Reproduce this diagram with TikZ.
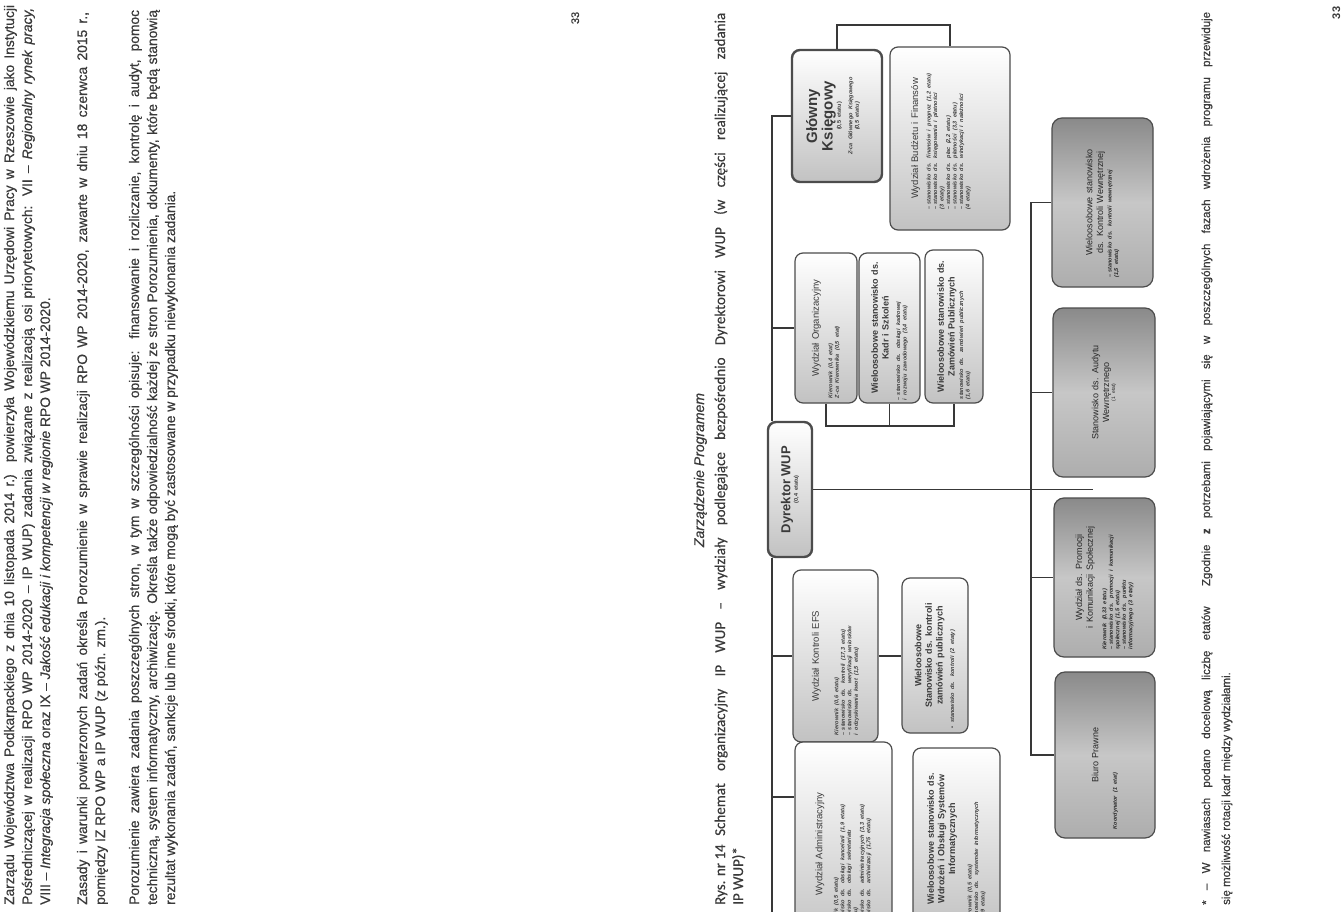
\documentclass[tikz,border=0pt]{standalone}
\usepackage{fontspec}
\setmainfont{Liberation Sans}
\newfontfamily\bodyfont{Liberation Sans}[FakeBold=0.45]
\newfontfamily\capfont{Carlito}[FakeBold=0.3]
\usetikzlibrary{calc}

\definecolor{ink}{HTML}{3A3A3A}
\definecolor{frame}{HTML}{4C4C4C}
\definecolor{wire}{HTML}{383838}
\setlength{\parindent}{0pt}

% type sizes
\newcommand\bodysize{\bodyfont\fontsize{13.8}{17}\selectfont}
\newcommand\boxttl{\fontsize{9.5}{11}\selectfont}
\newcommand\boxttlb{\fontsize{9}{10.6}\selectfont\bfseries}
\newcommand\lowttl{\fontsize{9}{10.6}\selectfont}
\newcommand\boxitm{\fontsize{5.5}{6.5}\selectfont\bfseries\itshape}
% justified line of running text
\newcommand\fullline[2]{\makebox[#1][s]{#2}}
% dashed list entry with hanging indent
\newcommand\dashit[1]{\par\hangindent=5pt\hangafter=1\noindent\makebox[5pt][l]{–}#1}

\begin{document}
\begin{tikzpicture}[x=1pt,y=-1pt,
  bodyline/.style={rotate=90, anchor=base west, inner sep=0pt, font=\bodysize, text=ink},
  capline/.style={rotate=90, anchor=base west, inner sep=0pt, font=\capfont\fontsize{15}{17}\selectfont, text=ink},
  noteline/.style={rotate=90, anchor=base west, inner sep=0pt, font=\bodyfont\fontsize{11.5}{14}\selectfont, text=ink},
  unit/.style={rotate=90, draw=frame, line width=1.2pt, rounded corners=8pt,
    top color=white, bottom color=black!24, inner sep=2pt, text=ink, align=center},
  chief/.style={unit, line width=2.4pt, draw=black!70},
  lowunit/.style={unit, rounded corners=10pt, top color=black!46, bottom color=black!32, middle color=black!22, text=black!85},
  wire/.style={draw=wire, line width=1.4pt},
]
\useasboundingbox (0,0) rectangle (1343,912);
\clip (0,0) rectangle (1343,912);
\fill[white] (0,0) rectangle (1343,912);

% ---- running text, end of the previous page ----
\node[bodyline] (p1a) at (14,905) {\fullline{900pt}{Zarządu Województwa Podkarpackiego z dnia 10 listopada 2014 r.) powierzyła Wojewódzkiemu Urzędowi Pracy w Rzeszowie jako Instytucji}};
\node[bodyline] (p1b) at (32,905) {\fullline{897pt}{Pośredniczącej w realizacji RPO WP 2014-2020 – IP WUP) zadania związane z realizacją osi priorytetowych: VII – \textit{Regionalny rynek pracy,}}};
\node[bodyline] (p1c) at (50,905) {VIII – \textit{Integracja społeczna} oraz IX – \textit{Jakość edukacji i kompetencji w regionie} RPO WP 2014-2020.};

\node[bodyline] (p2a) at (87,905) {\fullline{893pt}{Zasady i warunki powierzonych zadań określa Porozumienie w sprawie realizacji RPO WP 2014-2020, zawarte w dniu 18 czerwca 2015 r.,}};
\node[bodyline] (p2b) at (105,905) {pomiędzy IZ RPO WP a IP WUP (z późn. zm.).};

\node[bodyline] (p3a) at (139,905) {\fullline{895pt}{Porozumienie zawiera zadania poszczególnych stron, w tym w szczególności opisuje: finansowanie i rozliczanie, kontrolę i audyt, pomoc}};
\node[bodyline] (p3b) at (157,905) {\fullline{895pt}{techniczną, system informatyczny, archiwizację. Określa także odpowiedzialność każdej ze stron Porozumienia, dokumenty, które będą stanowią}};
\node[bodyline] (p3c) at (175,905) {rezultat wykonania zadań, sankcje lub inne środki, które mogą być zastosowane w przypadku niewykonania zadania.};

\node[rotate=90, anchor=base, inner sep=0pt, font=\bodyfont\fontsize{11}{12}\selectfont, text=ink] (pgA) at (579,18) {33};

% ---- heading and caption ----
\node[rotate=90, anchor=base, inner sep=0pt, font=\bodyfont\fontsize{14}{16}\selectfont\itshape, text=ink] (head) at (704,470) {Zarządzenie Programem};
\node[capline] (capA) at (725,905) {Rys. nr 14};
\node[capline] (capB) at (725,836) {\fullline{823pt}{Schemat organizacyjny IP WUP – wydziały podlegające bezpośrednio Dyrektorowi WUP (w części realizującej zadania}};
\node[capline] (capC) at (743,905) {IP WUP)*};

% ---- organisation chart ----
\coordinate (sp) at (772,0);
\coordinate (bs) at (1031,0);
\coordinate (brk) at (0,426);
\coordinate (topbrk) at (0,25);
\coordinate (spend) at (0,925);
\coordinate (dend) at (1093,0);
\coordinate (admc) at (772,797);

\node[chief, minimum width=132pt, minimum height=90pt, text width=124pt] (gk) at (837,116)
 {{\fontsize{15}{15.5}\selectfont\bfseries Główny\\Księgowy\par}
  {\fontsize{5.5}{6.5}\selectfont\bfseries (0,5 etatu)\par}\vspace{5pt}
  {\fontsize{5.5}{6.5}\selectfont\bfseries\itshape Z-ca Głównego Księgowego\\(0,5 etatu)\par}\vspace{8pt}};

\node[unit, minimum width=183pt, minimum height=120pt, text width=142pt] (bud) at (950,138.5)
 {{\boxttl Wydział Budżetu i Finansów\par}\vspace{6pt}
  {\boxitm\raggedright
   \dashit{stanowisko ds. finansów i prognoz (1,2 etatu)}
   \dashit{stanowisko ds. księgowania i płatności\\(3 etaty)}
   \dashit{stanowisko ds. płac (2,2 etatu)}
   \dashit{stanowisko ds. płatności (3,3 etatu)}
   \dashit{stanowisko ds. windykacji i należności\\(4 etaty)}\par}
  \vspace{18pt}};

\node[unit, minimum width=150pt, minimum height=62pt, text width=140pt] (org) at (826,328)
 {{\boxttl Wydział Organizacyjny\par}\vspace{7pt}
  {\boxitm\raggedright Kierownik (0,4 etat)\\Z-ca Kierownika (0,5 etat)\par}};

\node[unit, minimum width=150pt, minimum height=61pt, text width=144pt] (kadr) at (889.5,328)
 {{\boxttlb Wieloosobowe stanowisko ds.\\Kadr i Szkoleń\par}\vspace{5pt}
  {\boxitm\raggedright \dashit{stanowisko ds. obsługi kadrowej\\i rozwoju zawodowego (3,4 etatu)}\par}};

\node[unit, minimum width=153pt, minimum height=58pt, text width=145pt] (zam) at (954,326.5)
 {{\boxttlb Wieloosobowe stanowisko ds.\\Zamówień Publicznych\par}\vspace{2pt}
  {\boxitm\raggedright stanowisko ds. zamówień publicznych\\(1,6 etatu)\par}};

\node[chief, minimum width=135pt, minimum height=44pt, text width=126pt] (dyr) at (790,489.5)
 {{\fontsize{13}{14}\selectfont\bfseries Dyrektor WUP\par}
  {\fontsize{5.5}{6.5}\selectfont\bfseries (0,4 etatu)\par}};

\node[unit, minimum width=172pt, minimum height=85pt, text width=158pt] (efs) at (835.5,656)
 {{\boxttl Wydział Kontroli EFS\par}\vspace{13pt}
  {\boxitm\raggedright Kierownik (0,6 etatu)
   \dashit{stanowisko ds. kontroli (17,3 etatu)}
   \dashit{stanowisko ds. weryfikacji wniosków\\i odzyskiwania kwot (1,5 etatu)}\par}};

\node[unit, minimum width=155pt, minimum height=66pt, text width=145pt] (kz) at (935,655.5)
 {{\boxttlb Wieloosobowe\\Stanowisko ds. kontroli\\zamówień publicznych\par}\vspace{5pt}
  {\boxitm\raggedright • stanowisko ds. kontroli (2 etaty)\par}};

\node[unit, minimum width=204pt, minimum height=97pt, text width=182pt] (adm) at (843.5,844)
 {{\boxttl Wydział Administracyjny\par}\vspace{9pt}
  {\boxitm\raggedright Kierownik (0,5 etatu)
   \dashit{stanowisko ds. obsługi kancelarii (1,9 etatu)}
   \dashit{stanowisko ds. obsługi sekretariatu\\(0,9 etatu)}
   \dashit{stanowisko ds. administracyjnych (3,3 etatu)}
   \dashit{stanowisko ds. archiwizacji (1,75 etatu)}\par}};

\node[unit, minimum width=182pt, minimum height=87pt, text width=166pt] (wdr) at (956.5,839)
 {{\boxttlb Wieloosobowe stanowisko ds.\\Wdrożeń i Obsługi Systemów\\Informatycznych\par}\vspace{10pt}
  {\boxitm\raggedright Kierownik (0,5 etatu)\\stanowisko ds. systemów informatycznych\\(4,59 etatu)\par}};

\node[lowunit, minimum width=169pt, minimum height=101pt, text width=150pt] (kw) at (1102.5,202.5)
 {{\lowttl Wieloosobowe stanowisko\\ds. Kontroli Wewnętrznej\par}\vspace{2pt}
  {\boxitm\raggedright \dashit{stanowisko ds. kontroli wewnętrznej}\par(1,5 etatu)\par}};

\node[lowunit, minimum width=169pt, minimum height=102pt, text width=150pt] (aud) at (1104,392.5)
 {{\lowttl Stanowisko ds. Audytu\\Wewnętrznego\par}
  {\fontsize{5}{6}\selectfont (1 etat)\par}};

\node[lowunit, minimum width=159pt, minimum height=101pt, text width=144pt] (prom) at (1104.5,577.5)
 {{\lowttl Wydział ds. Promocji\\i Komunikacji Społecznej\par}\vspace{7pt}
  {\boxitm\raggedright Kierownik (0,33 etatu)
   \dashit{stanowisko ds. promocji i komunikacji\\społecznej (1,5 etatu)}
   \dashit{stanowisko ds. punktu\\informacyjnego (3 etaty)}\par}};

\node[lowunit, minimum width=166pt, minimum height=100pt, text width=148pt] (bp) at (1105,755)
 {{\lowttl Biuro Prawne\par}\vspace{12pt}
  {\boxitm\raggedright Koordynator (1 etat)\par}};

% connectors
\draw[wire] (gk.north) -- (gk.north -| sp) -- (dyr.east -| sp);
\draw[wire] (org.north -| sp) -- (org.north);
\draw[wire] (dyr.west -| sp) -- (sp |- spend);
\draw[wire] (efs.north -| sp) -- (efs.north);
\draw[wire] (admc) -- (admc -| adm.north);
\draw[wire] (efs.south) -- (efs.south -| kz.north);
\draw[wire] (org.west) -- (org.west |- brk) -- (zam.west |- brk) -- (zam.west);
\draw[wire] (kadr.west) -- (kadr.west |- brk);
\draw[wire] (gk.east) -- (gk.east |- topbrk) -- (bud.east |- topbrk) -- (bud.east);
\draw[wire] (dyr.south) -- (dyr.south -| dend);
\draw[wire] (kw.north) -- (kw.north -| bs) -- (bp.north -| bs) -- (bp.north);
\draw[wire] (aud.north -| bs) -- (aud.north);
\draw[wire] (prom.north -| bs) -- (prom.north);

% ---- footnote and page number ----
\node[noteline] (fnA) at (1210,905) {\fullline{893pt}{* – W nawiasach podano docelową liczbę etatów\hspace{10pt} Zgodnie \textbf{z} potrzebami pojawiającymi się w poszczególnych fazach wdrożenia programu przewiduje}};
\node[noteline] (fnB) at (1230,905) {się możliwość rotacji kadr między wydziałami.};
\node[rotate=90, anchor=base, inner sep=0pt, font=\fontsize{11}{12}\selectfont\bfseries, text=ink] (pgB) at (1340,13) {33};
\end{tikzpicture}
\end{document}
